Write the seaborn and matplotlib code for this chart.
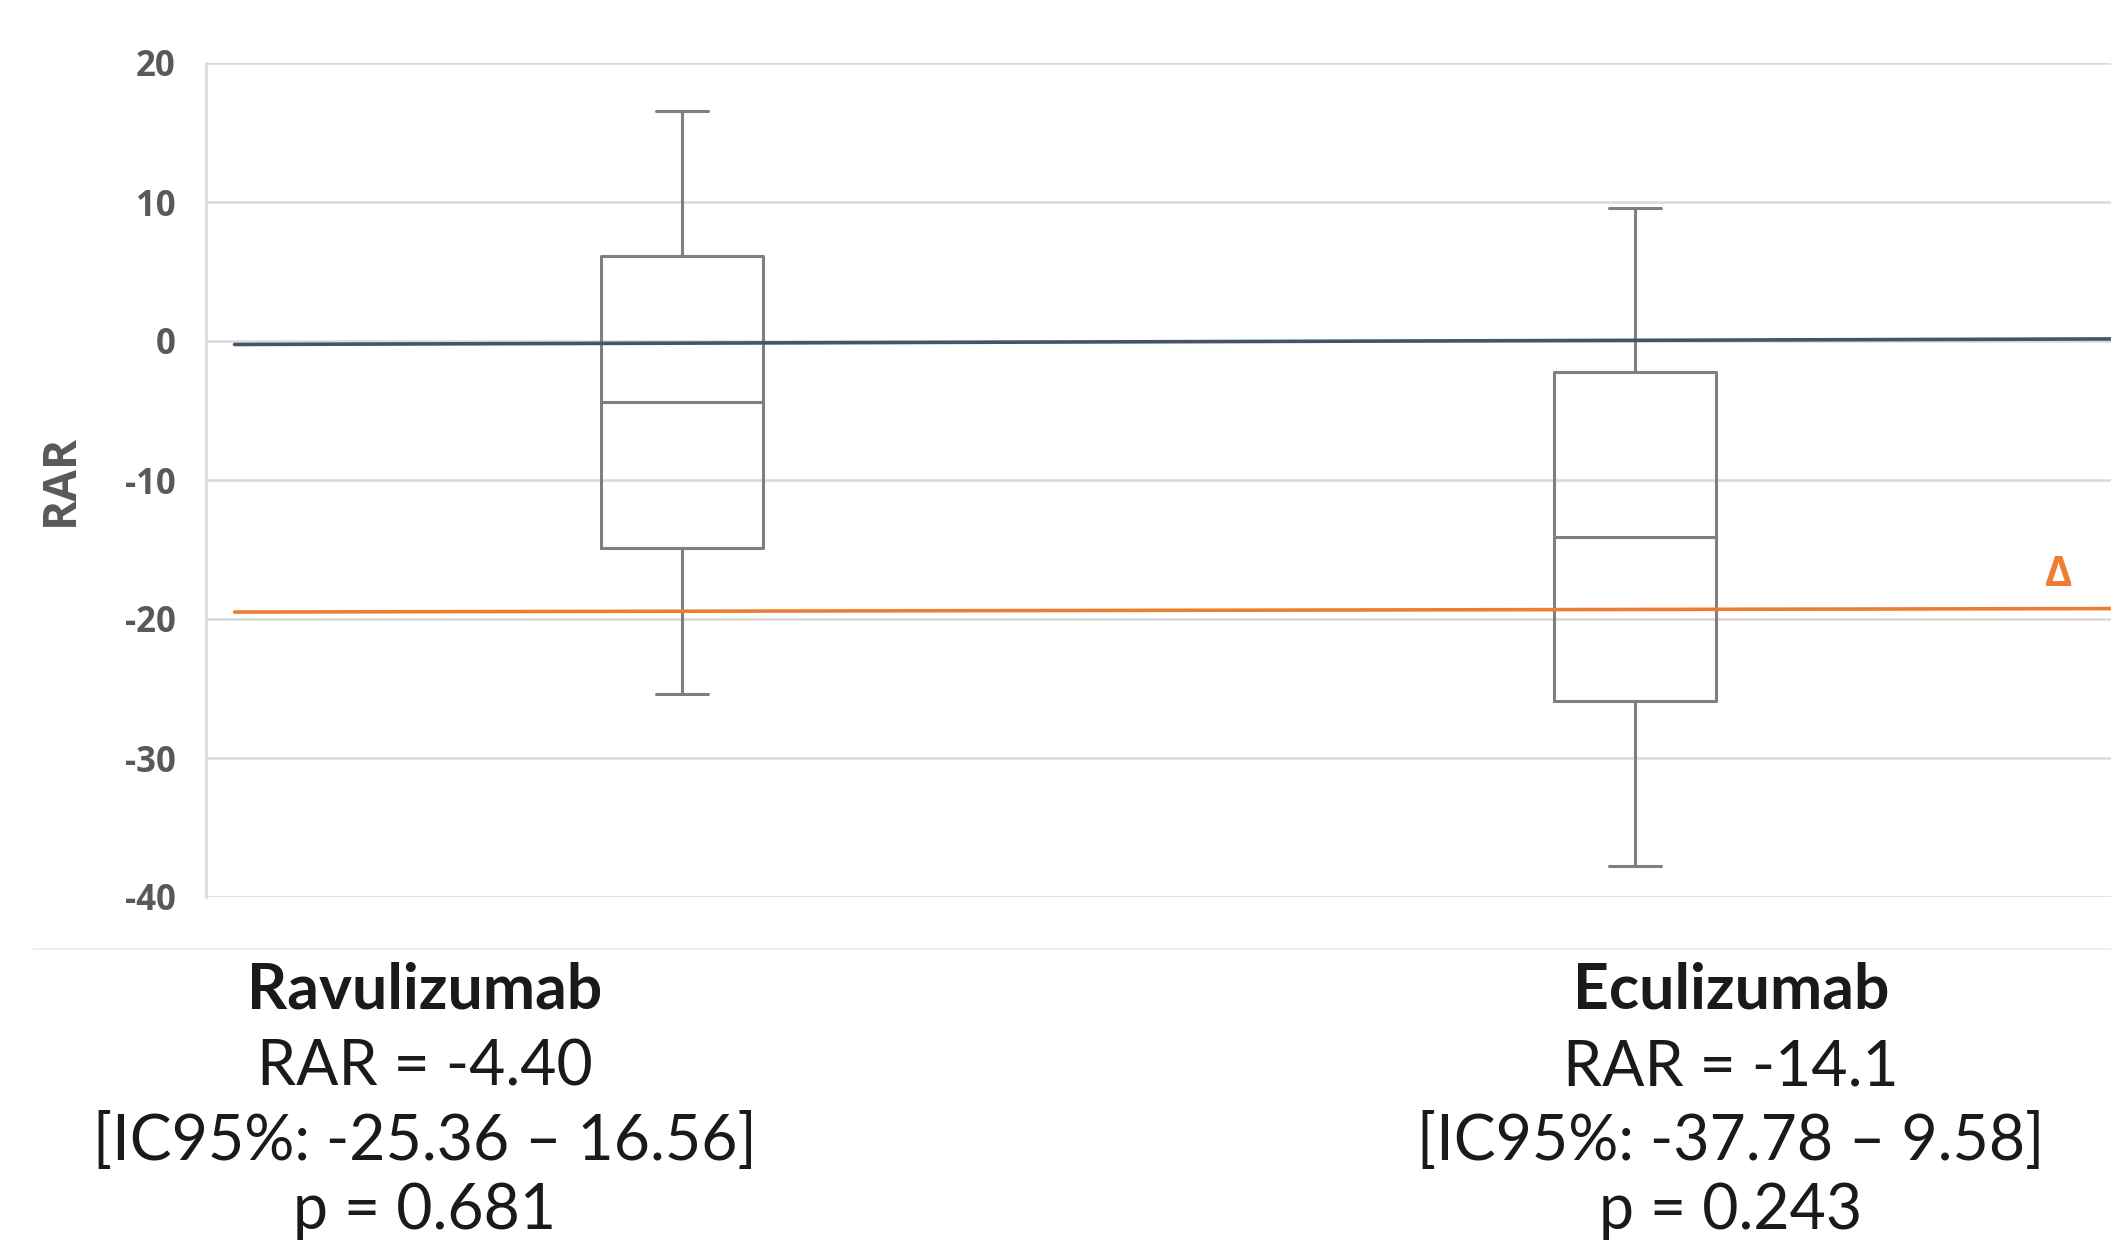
import numpy as np
import pandas as pd
import seaborn as sns
import matplotlib
matplotlib.use("Agg")
import matplotlib.pyplot as plt

# five-number summaries (min, Q1, median, Q3, max)
groups = ["Ravulizumab", "Eculizumab"]
ravu_vals = [-25.36, -14.9, -4.40, 6.1, 16.56]
ecu_vals = [-37.78, -25.9, -14.1, -2.2, 9.58]

# reference lines (left end, right end)
line_x = [-0.47, 1.5]
zero_line_y = [-0.25, 0.15]
delta_line_y = [-19.5, -19.25]

yticks = [20, 10, 0, -10, -20, -30, -40]

# annotation lines under each group
ravu_text = ["Ravulizumab", "RAR = -4.40", "[IC95%: -25.36 – 16.56]", "p = 0.681"]
ecu_text = ["Eculizumab", "RAR = -14.1", "[IC95%: -37.78 – 9.58]", "p = 0.243"]

df = pd.DataFrame({
    "grupo": [groups[0]] * len(ravu_vals) + [groups[1]] * len(ecu_vals),
    "RAR": ravu_vals + ecu_vals,
})

sns.set_theme(style="white")
plt.rcParams["font.family"] = ["Open Sans", "DejaVu Sans"]

fig = plt.figure(figsize=(21.11, 12.42), dpi=100)
ax = fig.add_axes([206 / 2111, 1 - 897 / 1242, 1 - 206 / 2111, (897 - 63) / 1242])

box_gray = "#7f7f7f"
sns.boxplot(data=df, x="grupo", y="RAR", order=groups, ax=ax,
            whis=(0, 100), width=0.17, fill=False, color=box_gray,
            linewidth=2.2, showfliers=False, capwidths=0.055)

ax.plot(line_x, zero_line_y, color="#44546a", lw=2.6, zorder=3)
ax.plot(line_x, delta_line_y, color="#ed7d31", lw=2.6, zorder=3)
ax.text(1.445, -16.9, "Δ", color="#ed7d31", fontsize=30, fontweight="bold",
        ha="center", va="center")

ax.set_ylim(-40, 20)
ax.set_xlim(-0.5, 1.5)
ax.set_yticks(yticks)
ax.set_yticklabels([str(t) for t in yticks])
ax.tick_params(axis="y", length=0, pad=22, labelsize=25, labelcolor="#595959")
for lab in ax.get_yticklabels():
    lab.set_fontweight("bold")
ax.set_xticks([])
ax.set_xlabel("")
ax.set_ylabel("RAR", fontsize=33, fontweight="bold", color="#595959")
ax.yaxis.set_label_coords(-0.064, 0.5)
ax.grid(axis="y", color="#d9d9d9", lw=1.8)
ax.set_axisbelow(True)
for side in ["top", "right", "bottom"]:
    ax.spines[side].set_visible(False)
ax.spines["left"].set_color("#d9d9d9")
ax.spines["left"].set_linewidth(1.8)

# faint separator under the plot
fig.add_artist(plt.Line2D([34 / 2111, 1], [1 - 949 / 1242] * 2, color="#f0f0f0", lw=1.5))

baselines = [0.1884, 0.1264, 0.066, 0.0105]
for cx, lines in [(0.2013, ravu_text), (0.820, ecu_text)]:
    for i, (txt, yb) in enumerate(zip(lines, baselines)):
        fig.text(cx, yb, txt, ha="center", va="baseline", fontsize=45,
                 fontweight="bold" if i == 0 else "normal", color="#1a1a1a",
                 family=["Lato", "DejaVu Sans"])

fig.savefig("out.png", dpi=100)
